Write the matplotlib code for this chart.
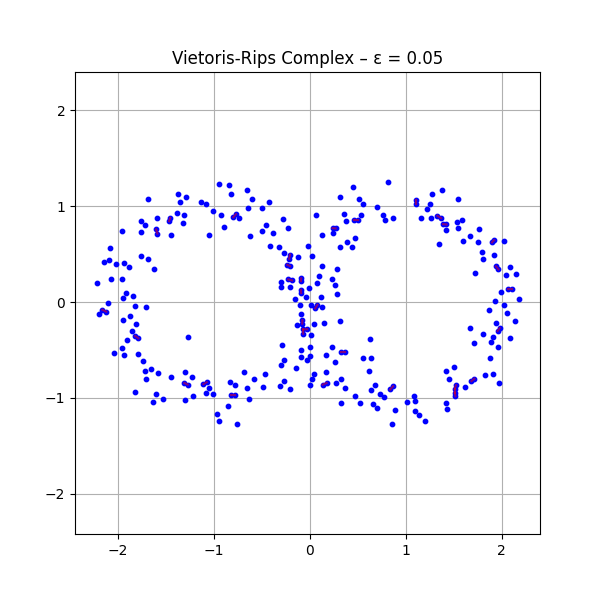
import numpy as np
import matplotlib
matplotlib.use("Agg")
import matplotlib.pyplot as plt

eps = 0.05

# point coordinates, left loop first then middle and right loop
xs = [
    -1.684, -1.372, -1.289, -1.351, -1.135, -1.086, -1.591, -1.764, -1.716, -1.382,
    -1.309, -1.458, -1.469, -1.320, -1.955, -1.757, -1.604, -1.591, -1.445, -2.083,
    -1.757, -1.688, -2.143, -2.091, -2.018, -1.941, -1.882, -1.622, -2.222, -2.070,
    -1.955, -1.950, -1.915, -1.841, -2.101, -1.820, -1.714, -2.165, -2.125, -2.200,
    -1.951, -1.872, -1.809, -1.851, -1.823, -1.789, -1.903, -1.961, -2.045, -1.941,
    -1.789, -1.736, -1.716, -1.653, -1.705, -1.580, -1.268, -1.445, -1.302, -1.226,
    -1.309, -1.274, -1.111, -1.076, -1.086, -1.820, -1.601, -1.632, -1.528, -1.302,
    -1.216,
    -0.945, -0.841, -0.820, -0.653, -0.601, -0.424, -1.007, -0.924, -0.643, -0.497,
    -0.799, -0.771, -0.736, -0.278, -0.893, -0.455, -0.226, -0.500, -0.382, -1.049,
    -0.622, -0.417, -0.320, -0.024, -0.265, -0.208, -0.216, -0.122, -0.236, -0.208,
    -0.302, -0.299, -0.226, -0.185, -0.091, -0.094, -0.208, -0.094, -0.091, -0.014,
    -0.153, -0.039, -0.104, 0.010,
    -0.094, -0.078, -0.080, -0.132, -0.072, -0.028, -0.070, 0.010, -0.289, -0.091,
    0.000, -0.274, -0.299, -0.094, -0.035, 0.005, -0.143, -0.684, -0.466, -0.580,
    -0.830, -0.784, -0.268, -0.309, -0.205, -0.486, -0.653, 0.000, -1.049, -1.007,
    -0.820, -0.781, -0.639, -0.851, -0.966, -0.951, -0.757,
    0.451, 0.816, 0.316, 0.510, 0.555, 0.698, 0.066, 0.357, 0.378, 0.461,
    0.500, 0.534, 0.764, 0.784, 0.868, 0.236, 0.268, 0.243, 0.128, 0.472,
    0.389, 0.316, 0.441, 0.024, 0.128, 0.284, 0.097, 0.232, 0.076, 0.264,
    0.118, 0.284, 0.055, 0.078, 0.130,
    0.045, 0.149, 0.313, 0.232, 0.628, 0.323, 0.368, 0.167, 0.264, 0.555,
    0.639, 0.618, 0.170, 0.045, 0.024, 0.132, 0.174, 0.274, 0.326, 0.368,
    0.677, 0.639, 0.838, 0.868, 0.732, 0.774, 0.472, 0.326, 0.524, 0.659,
    0.695, 0.889, 0.857, 1.018,
    1.104, 1.104, 1.274, 1.378, 1.545, 1.253, 1.222, 1.159, 1.264, 1.330,
    1.368, 1.389, 1.424, 1.420, 1.534, 1.586, 1.548, 1.764, 1.670, 1.594,
    1.753, 1.347, 1.899, 1.920, 2.024, 1.795, 1.805, 1.920, 1.941, 1.966,
    2.086, 2.045, 2.149, 1.722, 2.066, 2.107, 1.993, 2.180, 1.930, 2.024,
    1.868, 2.055, 2.139, 1.945, 1.958, 1.979, 1.670, 1.805, 1.910, 1.889,
    1.711, 1.958, 2.086, 1.878, 1.503, 1.420, 1.451, 1.826, 1.910, 1.972,
    1.685, 1.715, 1.618, 1.524, 1.510, 1.510, 1.518, 1.086, 1.097, 1.420,
    1.430, 1.097, 1.135, 1.201,
]
ys = [
    1.080, 1.122, 1.091, 1.039, 1.048, 1.018, 0.872, 0.841, 0.799, 0.934,
    0.903, 0.878, 0.844, 0.820, 0.736, 0.726, 0.757, 0.715, 0.695, 0.563,
    0.479, 0.445, 0.414, 0.434, 0.393, 0.403, 0.361, 0.341, 0.195, 0.236,
    0.236, 0.040, 0.090, 0.059, -0.010, -0.042, -0.052, -0.080, -0.100, -0.128,
    -0.191, -0.146, -0.229, -0.305, -0.354, -0.378, -0.399, -0.482, -0.531, -0.555,
    -0.542, -0.618, -0.719, -0.698, -0.805, -0.740, -0.368, -0.784, -0.729, -0.781,
    -0.844, -0.861, -0.857, -0.836, -0.951, -0.938, -0.958, -1.042, -1.010, -1.021,
    -0.982,
    1.229, 1.216, 1.132, 1.174, 1.080, 1.042, 0.948, 0.903, 0.976, 0.976,
    0.885, 0.917, 0.875, 0.865, 0.778, 0.799, 0.768, 0.736, 0.716, 0.695,
    0.684, 0.583, 0.570, 0.580, 0.507, 0.495, 0.452, 0.469, 0.389, 0.375,
    0.208, 0.153, 0.236, 0.226, 0.247, 0.219, 0.153, 0.128, 0.094, 0.143,
    0.031, 0.049, -0.034, -0.030,
    -0.122, -0.190, -0.225, -0.242, -0.285, -0.283, -0.330, -0.345, -0.451, -0.503,
    -0.466, -0.607, -0.659, -0.576, -0.600, -0.565, -0.691, -0.732, -0.753, -0.805,
    -0.833, -0.868, -0.826, -0.878, -0.909, -0.889, -0.899, -0.868, -0.899, -0.961,
    -0.969, -0.969, -1.007, -1.086, -1.164, -1.243, -1.274,
    1.205, 1.250, 1.101, 1.070, 1.018, 0.993, 0.903, 0.914, 0.841, 0.851,
    0.851, 0.903, 0.903, 0.851, 0.872, 0.771, 0.768, 0.716, 0.695, 0.664,
    0.622, 0.570, 0.570, 0.476, 0.375, 0.341, 0.268, 0.236, 0.195, 0.174,
    0.049, 0.080, -0.066, -0.029, -0.047,
    -0.232, -0.222, -0.201, -0.472, -0.389, -0.524, -0.524, -0.555, -0.625, -0.586,
    -0.586, -0.722, -0.729, -0.750, -0.802, -0.862, -0.844, -0.847, -0.805, -0.899,
    -0.868, -0.920, -0.912, -0.878, -0.961, -0.993, -0.982, -1.055, -1.055, -1.066,
    -1.105, -1.128, -1.274, -1.042,
    1.062, 1.018, 1.132, 1.174, 1.080, 1.018, 0.972, 0.872, 0.872, 0.900,
    0.875, 0.813, 0.809, 0.747, 0.830, 0.861, 0.772, 0.760, 0.684, 0.632,
    0.622, 0.601, 0.622, 0.646, 0.632, 0.518, 0.445, 0.486, 0.372, 0.341,
    0.361, 0.278, 0.289, 0.299, 0.132, 0.132, 0.101, 0.028, 0.007, -0.034,
    -0.086, -0.118, -0.201, -0.222, -0.302, -0.271, -0.274, -0.336, -0.368, -0.420,
    -0.430, -0.472, -0.378, -0.586, -0.680, -0.722, -0.805, -0.764, -0.750, -0.847,
    -0.825, -0.800, -0.889, -0.868, -0.906, -0.945, -0.982, -0.982, -1.034, -1.055,
    -1.118, -1.139, -1.178, -1.243,
]

pts = np.column_stack([xs, ys])

# edges of the complex: every pair closer than eps
d = np.sqrt(((pts[:, None, :] - pts[None, :, :]) ** 2).sum(axis=2))
ii, jj = np.where(np.triu(d < eps, k=1))

fig, ax = plt.subplots(figsize=(6, 6), dpi=100)
ax.scatter(pts[:, 0], pts[:, 1], c="blue", s=10, zorder=2)
for i, j in zip(ii, jj):
    ax.plot([pts[i, 0], pts[j, 0]], [pts[i, 1], pts[j, 1]], color="red", alpha=0.5, zorder=3)

ax.set_xlim(-2.45, 2.40)
ax.set_ylim(-2.42, 2.40)
ax.set_xticks([-2, -1, 0, 1, 2])
ax.set_yticks([-2, -1, 0, 1, 2])
ax.grid(True)
ax.set_title("Vietoris-Rips Complex \u2013 \u03b5 = 0.05")

plt.savefig("out.png")
